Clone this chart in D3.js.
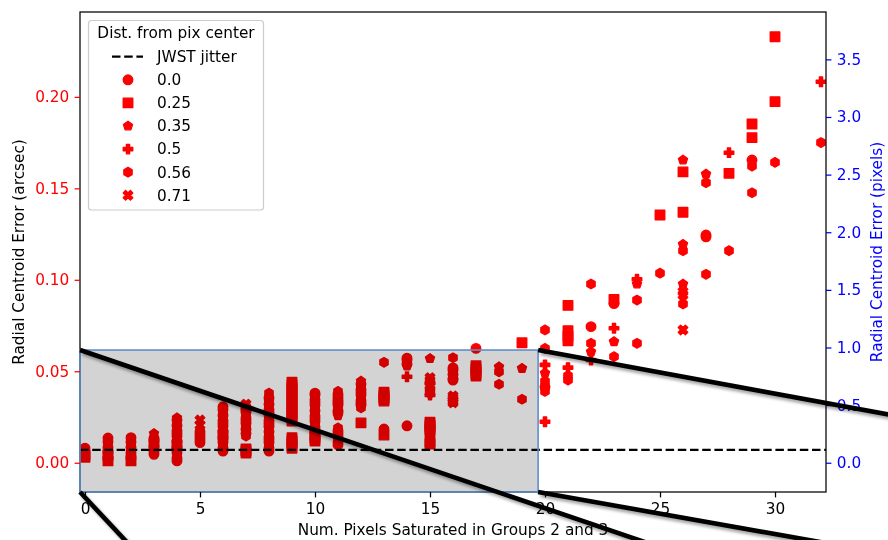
<!DOCTYPE html>
<html>
<head>
<meta charset="utf-8">
<script src="https://cdn.jsdelivr.net/npm/d3@7"></script>
<style>
  html, body { margin: 0; padding: 0; background: #ffffff; }
  svg { display: block; font-family: "DejaVu Sans", sans-serif; }
</style>
</head>
<body>
<svg id="chart" width="888" height="540"></svg>
<script>
// ---------------- DATA ----------------
// [num saturated pixels, radial centroid error (arcsec)]
const dist00 = [[0,0.008],[0,0.0065],[1,0.007],[1,0.0135],[1,0.0025],[1,0.0055],[1,0.0085],[1,0.0115],
  [2,0.004],[2,0.0137],[2,0.0025],[2,0.0055],[2,0.0085],[2,0.0115],[3,0.0046],[3,0.0135],[3,0.006],[3,0.009],[3,0.012],
  [4,0.001],[4,0.007],[4,0.016],[4,0.0025],[4,0.0055],[4,0.0085],[4,0.0115],[4,0.0145],[4,0.0175],[4,0.0205],[4,0.0235],
  [5,0.017],[5,0.014],[5,0.011],[5,0.0125],[5,0.0155],[6,0.0064],[6,0.0124],[6,0.0214],[6,0.0306],[6,0.008],[6,0.011],
  [6,0.014],[6,0.017],[6,0.020],[6,0.023],[6,0.026],[6,0.029],[7,0.023],[7,0.016],[7,0.0185],[7,0.0215],[7,0.0245],
  [7,0.0275],[7,0.0305],[8,0.0064],[8,0.0125],[8,0.0215],[8,0.0275],[8,0.008],[8,0.011],[8,0.014],[8,0.017],[8,0.020],
  [8,0.023],[8,0.026],[8,0.029],[8,0.032],[8,0.0355],[10,0.018],[10,0.024],[10,0.033],[10,0.038],[10,0.0165],[10,0.0195],
  [10,0.0225],[10,0.0255],[10,0.0285],[10,0.0315],[10,0.0345],[10,0.037],[11,0.036],[11,0.0275],[11,0.016],[11,0.0097],
  [11,0.0285],[11,0.0315],[11,0.0345],[11,0.0375],[11,0.0112],[11,0.0145],[11,0.0175],[12,0.0385],[12,0.0325],
  [12,0.0315],[12,0.034],[12,0.037],[12,0.040],[12,0.043],[13,0.0184],[14,0.0572],[14,0.0561],[14,0.054],[14,0.0202],
  [16,0.0518],[16,0.0452],[16,0.0506],[16,0.0484],[16,0.046],[17,0.0625],[20,0.0415],[22,0.0744],
  [23,0.087],[27,0.1245],[27,0.1235],[29,0.1655]];
const dist25 = [[0,0.003],[0,0.0042],[1,0.001],[1,0.004],[2,0.001],[3,0.0105],[4,0.010],[6,0.0154],[7,0.0075],[7,0.0053],
  [7,0.0064],[9,0.0228],[9,0.026],[9,0.029],[9,0.032],[9,0.035],[9,0.038],[9,0.041],[9,0.044],[9,0.0245],[9,0.0275],
  [9,0.0305],[9,0.0335],[9,0.0365],[9,0.0395],[9,0.0425],[9,0.0079],[9,0.0108],[9,0.0137],[9,0.0093],[9,0.0122],
  [10,0.0119],[10,0.015],[10,0.0135],[12,0.0218],[13,0.0385],[13,0.036],[13,0.0337],[13,0.035],[13,0.0372],[13,0.0151],
  [15,0.0221],[15,0.0195],[15,0.017],[15,0.0208],[15,0.0183],[15,0.0113],[15,0.0102],[17,0.053],[17,0.050],[17,0.0474],
  [17,0.0515],[17,0.0487],[19,0.0656],[21,0.086],[21,0.0722],[21,0.069],[21,0.0667],
  [23,0.0892],[25,0.1354],[26,0.159],[26,0.1369],[28,0.1582],[29,0.1852],[29,0.1777],[30,0.2329],[30,0.1974]];
const dist35 = [[2,0.010],[3,0.016],[4,0.019],[4,0.0246],[6,0.0244],[7,0.017],[8,0.0185],[8,0.0335],[10,0.027],
  [11,0.0257],[12,0.0447],[14,0.0529],[15,0.057],[16,0.0472],[18,0.0525],[19,0.0516],[20,0.049],[22,0.0607],
  [23,0.0662],[24,0.0977],[26,0.1655],[26,0.1194],[26,0.0977],[27,0.1578]];
const dist50 = [[7,0.029],[11,0.033],[14,0.047],[15,0.0435],[15,0.037],[20,0.0535],[20,0.0224],[21,0.052],[22,0.0562],
  [23,0.0735],[24,0.1003],[28,0.1695],[32,0.2083]];
const dist56 = [[0,0.0055],[1,0.010],[2,0.007],[3,0.0075],[4,0.004],[4,0.013],[4,0.022],[6,0.0094],[6,0.0184],[6,0.0275],
  [7,0.026],[7,0.020],[7,0.0146],[8,0.0095],[8,0.0155],[8,0.0245],[8,0.0305],[8,0.038],[10,0.021],[10,0.030],[10,0.036],
  [11,0.039],[11,0.030],[11,0.019],[11,0.013],[12,0.0415],[12,0.0355],[12,0.030],[13,0.0549],[14,0.055],[16,0.0574],
  [16,0.0495],[18,0.0497],[18,0.0429],[19,0.0347],[20,0.0726],[20,0.0625],[20,0.0445],[20,0.039],[21,0.0475],[21,0.0452],
  [22,0.0977],[22,0.0653],[23,0.058],[24,0.0889],[24,0.0653],[25,0.1036],[26,0.1159],[26,0.0868],[27,0.1531],[27,0.103],
  [28,0.1159],[29,0.1622],[29,0.1476],[30,0.1642],[32,0.175]];
const dist71 = [[5,0.0233],[5,0.0205],[7,0.032],[15,0.0465],[15,0.045],[15,0.0418],[15,0.040],[15,0.0385],
  [16,0.0365],[16,0.0355],[16,0.0345],[16,0.0337],[16,0.0328],[26,0.0935],[26,0.0917],[26,0.0726]];

const legendLabels = ["0.0", "0.25", "0.35", "0.5", "0.56", "0.71"];
const markerKinds  = ["circle", "square", "pentagon", "plus", "hexagon", "xfilled"];
const seriesList   = [dist00, dist25, dist35, dist50, dist56, dist71];

const jitterArcsec = 0.007;
const pixelScale = 0.063;                 // arcsec per pixel (right axis)
const xTicks = [0, 5, 10, 15, 20, 25, 30];
const yTicksArcsec = [0.00, 0.05, 0.10, 0.15, 0.20];
const yTicksPixels = [0.0, 0.5, 1.0, 1.5, 2.0, 2.5, 3.0, 3.5];
const xDomain = [-0.217, 32.217];
const yDomain = [-0.016, 0.2464];
const zoomX = [-0.217, 19.7];
const zoomY = [-0.016, 0.0616];
// far ends of the inset connector lines (main-axes data coordinates, outside the figure)
const connectorFrom = [[zoomX[0], zoomY[1]], [zoomX[1], zoomY[1]], [zoomX[1], zoomY[0]], [zoomX[0], zoomY[0]]];
const connectorTo   = [[35.43, -0.0908], [35.43, 0.0252], [35.43, -0.0511], [5.0, -0.0862]];

// ---------------- LAYOUT ----------------
const L = 80, R = 826, T = 12, B = 492;
const FS = 15.3;
const RED = "#ff0000", BLUE = "#0000ff";

const svg = d3.select("#chart");
svg.append("rect").attr("width", 888).attr("height", 540).attr("fill", "#fff");

const x = d3.scaleLinear().domain(xDomain).range([L, R]);
const y = d3.scaleLinear().domain(yDomain).range([B, T]);
const y2 = d3.scaleLinear().domain(yDomain.map(v => v / pixelScale)).range([B, T]);

const defs = svg.append("defs");
defs.append("clipPath").attr("id", "plotclip").append("rect")
  .attr("x", L).attr("y", T).attr("width", R - L).attr("height", B - T);
const f = defs.append("filter").attr("id", "shadow").attr("x", "-20%").attr("y", "-20%")
  .attr("width", "140%").attr("height", "140%");
f.append("feDropShadow").attr("dx", 2.5).attr("dy", 3).attr("stdDeviation", 1.6)
  .attr("flood-color", "#000").attr("flood-opacity", 0.35);

// marker path generators (size = marker size in px)
function markerPath(kind, s) {
  const h = s / 2;
  const poly = pts => "M" + pts.map(p => p[0].toFixed(2) + "," + p[1].toFixed(2)).join("L") + "Z";
  if (kind === "circle") return `M${h},0A${h},${h} 0 1,1 ${-h},0A${h},${h} 0 1,1 ${h},0Z`;
  if (kind === "square") return poly([[-h,-h],[h,-h],[h,h],[-h,h]]);
  if (kind === "pentagon" || kind === "hexagon") {
    const n = kind === "pentagon" ? 5 : 6;
    return poly(d3.range(n).map(i => {
      const a = -Math.PI / 2 + i * 2 * Math.PI / n;
      return [h * Math.cos(a), h * Math.sin(a)];
    }));
  }
  if (kind === "plus") {
    const base = [[-1,-3],[1,-3],[1,-1],[3,-1],[3,1],[1,1],[1,3],[-1,3],[-1,1],[-3,1],[-3,-1],[-1,-1]];
    return poly(base.map(p => [p[0] * s / 6, p[1] * s / 6]));
  }
  if (kind === "xfilled") {
    const base = [[-1,-2],[0,-1],[1,-2],[2,-1],[1,0],[2,1],[1,2],[0,1],[-1,2],[-2,1],[-1,0],[-2,-1]];
    return poly(base.map(p => [p[0] * s / 4, p[1] * s / 4]));
  }
}
const MS = 9.5;

// ---------------- DATA MARKS ----------------
const plot = svg.append("g").attr("clip-path", "url(#plotclip)");
seriesList.forEach((data, i) => {
  plot.append("g").selectAll("path").data(data).join("path")
    .attr("d", markerPath(markerKinds[i], MS))
    .attr("transform", d => `translate(${x(d[0])},${y(d[1])})`)
    .attr("fill", RED).attr("stroke", RED).attr("stroke-width", 1.4).attr("stroke-linejoin", "round");
});

// jitter line
plot.append("line")
  .attr("x1", L).attr("x2", R).attr("y1", y(jitterArcsec)).attr("y2", y(jitterArcsec))
  .attr("stroke", "#000").attr("stroke-width", 2.2).attr("stroke-dasharray", "8.5,3.7");

// zoom indicator rectangle
svg.append("rect")
  .attr("x", x(zoomX[0])).attr("y", y(zoomY[1]))
  .attr("width", x(zoomX[1]) - x(zoomX[0])).attr("height", y(zoomY[0]) - y(zoomY[1]))
  .attr("fill", "#d3d3d3").style("mix-blend-mode", "multiply");

// spines
const sp = svg.append("g").attr("stroke", "#000").attr("stroke-width", 1.25).attr("fill", "none");
sp.append("rect").attr("x", L).attr("y", T).attr("width", R - L).attr("height", B - T);

svg.append("rect")
  .attr("x", x(zoomX[0])).attr("y", y(zoomY[1]))
  .attr("width", x(zoomX[1]) - x(zoomX[0])).attr("height", y(zoomY[0]) - y(zoomY[1]))
  .attr("fill", "none").attr("stroke", "#5e8fca").attr("stroke-width", 1.6);

// ---------------- AXES ----------------
function styleAxis(g, color) {
  g.select(".domain").remove();
  g.selectAll(".tick line").attr("stroke", color).attr("stroke-width", 1.25);
  g.selectAll(".tick text").attr("fill", color).attr("font-size", FS)
    .attr("font-family", "DejaVu Sans");
}
const gx = svg.append("g").attr("transform", `translate(0,${B})`)
  .call(d3.axisBottom(x).tickValues(xTicks).tickFormat(d3.format("d")).tickSizeInner(5.4).tickSizeOuter(0).tickPadding(5.4));
styleAxis(gx, "#000");
const gy = svg.append("g").attr("transform", `translate(${L},0)`)
  .call(d3.axisLeft(y).tickValues(yTicksArcsec).tickFormat(d3.format(".2f")).tickSizeInner(5.4).tickSizeOuter(0).tickPadding(5.4));
styleAxis(gy, RED);
const gy2 = svg.append("g").attr("transform", `translate(${R},0)`)
  .call(d3.axisRight(y2).tickValues(yTicksPixels).tickFormat(d3.format(".1f")).tickSizeInner(5.4).tickSizeOuter(0).tickPadding(5.4));
styleAxis(gy2, BLUE);

svg.append("text").attr("x", (L + R) / 2).attr("y", 530).attr("dy", "0.35em")
  .attr("text-anchor", "middle").attr("font-size", FS).attr("fill", "#000")
  .text("Num. Pixels Saturated in Groups 2 and 3");
svg.append("text").attr("transform", `translate(19,${(T + B) / 2}) rotate(-90)`).attr("dy", "0.35em")
  .attr("text-anchor", "middle").attr("font-size", FS).attr("fill", "#000")
  .text("Radial Centroid Error (arcsec)");
svg.append("text").attr("transform", `translate(877,${(T + B) / 2}) rotate(-90)`).attr("dy", "0.35em")
  .attr("text-anchor", "middle").attr("font-size", FS).attr("fill", BLUE)
  .text("Radial Centroid Error (pixels)");

// ---------------- LEGEND ----------------
const lg = svg.append("g");
lg.append("rect").attr("x", 88.5).attr("y", 20.5).attr("width", 175).attr("height", 189.5)
  .attr("rx", 3).attr("fill", "#fff").attr("fill-opacity", 0.8)
  .attr("stroke", "#cccccc").attr("stroke-width", 1.2);
lg.append("text").attr("x", 176).attr("y", 33).attr("dy", "0.35em").attr("text-anchor", "middle")
  .attr("font-size", FS).attr("fill", "#000").text("Dist. from pix center");
const rowY = i => 56.7 + i * 23.1;
lg.append("line").attr("x1", 112).attr("x2", 143).attr("y1", rowY(0)).attr("y2", rowY(0))
  .attr("stroke", "#000").attr("stroke-width", 2.2).attr("stroke-dasharray", "8.5,3.7");
lg.append("text").attr("x", 157).attr("y", rowY(0)).attr("dy", "0.35em")
  .attr("font-size", FS).attr("fill", "#000").text("JWST jitter");
legendLabels.forEach((lab, i) => {
  lg.append("path").attr("d", markerPath(markerKinds[i], MS))
    .attr("transform", `translate(128,${rowY(i + 1)})`)
    .attr("fill", RED).attr("stroke", RED).attr("stroke-width", 1.4).attr("stroke-linejoin", "round");
  lg.append("text").attr("x", 157).attr("y", rowY(i + 1)).attr("dy", "0.35em")
    .attr("font-size", FS).attr("fill", "#000").text(lab);
});

// ---------------- INSET CONNECTORS ----------------
const cg = svg.append("g").attr("filter", "url(#shadow)");
connectorFrom.forEach((p, i) => {
  const q = connectorTo[i];
  cg.append("line").attr("x1", x(p[0])).attr("y1", y(p[1])).attr("x2", x(q[0])).attr("y2", y(q[1]))
    .attr("stroke", "#000").attr("stroke-width", 4.6).attr("stroke-linecap", "butt");
});
</script>
</body>
</html>
